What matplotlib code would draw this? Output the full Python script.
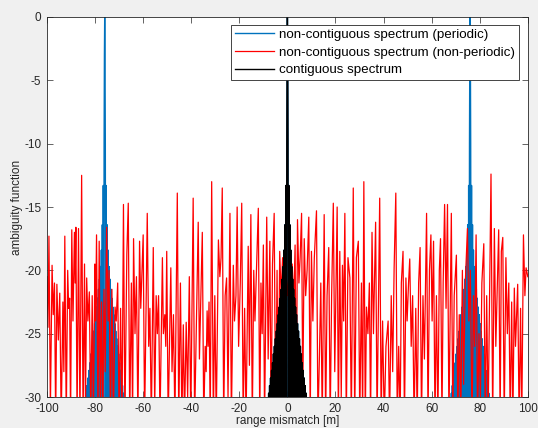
import matplotlib
matplotlib.use("Agg")
import matplotlib.pyplot as plt
import numpy as np

plt.rcParams['font.family'] = ['Liberation Sans', 'DejaVu Sans']
plt.rcParams['axes.unicode_minus'] = False

# main lobe + sidelobes of a peak (offset in m, level in dB), one half, mirrored below
lobe_dx = [0, 0.12, 0.25, 0.33, 0.4, 0.6, 0.8, 1.0, 1.2, 1.4, 1.6, 1.8, 2.0, 2.2, 2.4,
           2.6, 2.8, 3.0, 3.2, 3.4, 3.6, 3.8, 4.0, 4.2, 4.4, 4.6, 4.8, 5.0, 5.2, 5.4,
           5.6, 5.8, 6.0, 6.2, 6.4, 6.6, 6.8, 7.0, 7.2, 7.4, 7.6, 7.8, 8.0, 8.2, 8.4]
lobe_db = [0, -3, -10, -20, -45, -13.3, -45, -16.4, -45, -18.4, -45, -19.7, -45, -20.7, -45,
           -21.5, -45, -22.2, -45, -22.9, -45, -23.5, -45, -24.2, -45, -24.8, -45, -25.4, -45, -26.0,
           -45, -26.6, -45, -27.3, -45, -27.9, -45, -28.5, -45, -29.1, -45, -29.7, -45, -30.3, -45]

periodic_centres = [-76, 0, 76]
contiguous_centres = [0]

# non-periodic spectrum: peaks and dips (x [m], dB)
red_pts = [
    (-100.0, -20.5), (-99.6, -24.5), (-99.2, -17.3), (-98.6, -31), (-97.9, -19.6), (-97.4, -23.5),
    (-96.9, -21.0), (-96.4, -32), (-95.9, -21.1), (-95.3, -25.5), (-94.7, -21.8), (-94.1, -32),
    (-93.4, -22.5), (-93.0, -28), (-92.6, -17.3), (-92.0, -32), (-91.4, -20.0), (-91.0, -23),
    (-90.6, -22.2), (-90.2, -32), (-89.7, -16.8), (-89.2, -24), (-88.6, -17.0), (-88.3, -21),
    (-88.0, -16.6), (-87.5, -32), (-86.9, -16.7), (-86.3, -32), (-85.6, -12.5), (-85.0, -32),
    (-84.4, -19.5), (-84.0, -31), (-83.5, -20.6), (-83.0, -24), (-82.4, -21.7), (-81.8, -32),
    (-81.2, -22.0), (-80.7, -32), (-80.1, -19.5), (-79.8, -24), (-79.4, -17.2), (-78.8, -32),
    (-78.3, -17.7), (-77.8, -31), (-77.3, -22.5), (-76.8, -32), (-76.3, -21.5), (-75.8, -28),
    (-75.2, -16.6), (-74.6, -24), (-74.2, -20.0), (-73.6, -32), (-73.0, -21.5), (-72.4, -32),
    (-71.7, -22.9), (-71.2, -24), (-70.6, -21.0), (-70.0, -32), (-69.4, -23.0), (-68.8, -32),
    (-68.2, -14.8), (-67.6, -32), (-66.8, -18.7), (-66.2, -14.7), (-65.6, -32), (-64.9, -21),
    (-64.4, -32), (-64.0, -17.5), (-63.4, -25), (-62.8, -20.5), (-62.2, -32), (-61.5, -17.7),
    (-61.0, -23), (-60.0, -17.2), (-59.4, -32), (-58.3, -15.5), (-57.7, -26), (-57.2, -23),
    (-56.6, -32), (-55.8, -18.2), (-55.2, -31), (-54.6, -22), (-54.1, -25), (-53.6, -22),
    (-53.0, -32), (-52.0, -19.0), (-51.6, -25), (-51.0, -23.5), (-50.6, -26), (-50.2, -18.5),
    (-49.6, -32), (-48.5, -19.8), (-48.0, -28), (-47.4, -23.5), (-46.8, -32), (-45.8, -13.9),
    (-45.2, -32), (-44.5, -21), (-43.9, -32), (-43.3, -24.3), (-42.8, -32), (-42.1, -24.1),
    (-41.5, -30), (-40.8, -20.5), (-40.2, -32), (-39.2, -14.3), (-38.6, -32), (-37.1, -16.2),
    (-36.6, -27), (-35.4, -17.0), (-34.8, -32), (-34.2, -26), (-33.8, -28), (-33.4, -23.2),
    (-33.0, -26), (-32.6, -22.5), (-32.1, -32), (-31.5, -13.0), (-30.8, -32), (-30.2, -22),
    (-29.6, -32), (-28.7, -17.6), (-28.1, -20.5), (-27.6, -19), (-27.1, -13.5), (-26.5, -32),
    (-25.9, -22), (-25.3, -20.6), (-24.7, -30), (-23.9, -15.5), (-23.3, -32), (-22.5, -19.6),
    (-22.0, -24), (-21.4, -22), (-20.9, -15.0), (-20.3, -26), (-19.6, -21), (-19.0, -14.7),
    (-18.4, -32), (-17.8, -23), (-17.2, -32), (-16.3, -18.1), (-15.8, -27.5), (-15.2, -15.6),
    (-14.6, -32), (-14.0, -20), (-13.5, -24), (-12.8, -19.5), (-12.1, -15.1), (-11.5, -32),
    (-11.0, -21), (-10.5, -25), (-10.0, -18.0), (-9.5, -32), (-8.6, -15.8), (-8.0, -27),
    (-7.3, -17.7), (-6.8, -32), (-6.2, -19.5), (-5.5, -15.5), (-4.9, -32), (-4.3, -20),
    (-3.8, -32), (-3.2, -18.5), (-2.6, -22), (-2.0, -19), (-1.4, -32), (-0.8, -19.3),
    (0.0, -22), (0.8, -20), (1.4, -32), (2.0, -19.5), (2.6, -23), (3.2, -18.0),
    (3.7, -32), (4.2, -16.0), (4.8, -21), (5.3, -19), (5.9, -15.5), (6.4, -30),
    (7.0, -17.5), (7.6, -22), (8.2, -20), (8.9, -15.8), (9.5, -32), (10.0, -18.5),
    (10.6, -24), (11.2, -19), (12.1, -15.3), (12.7, -32), (13.3, -27.0), (13.9, -21),
    (14.5, -32), (15.3, -15.6), (15.9, -32), (16.5, -22), (17.2, -18.2), (17.8, -32),
    (18.4, -22), (19.1, -14.7), (19.7, -28), (20.7, -15.0), (21.2, -32), (21.8, -18.5),
    (22.4, -30), (22.9, -19.6), (23.4, -24), (23.9, -15.5), (24.5, -32), (25.2, -19),
    (26.0, -20.6), (26.6, -32), (27.4, -13.5), (28.0, -32), (28.7, -19), (29.5, -17.7),
    (30.1, -32), (30.8, -21), (31.3, -32), (31.8, -13.0), (32.4, -32), (32.9, -22.9),
    (33.5, -25), (34.1, -21), (34.6, -32), (35.2, -17.0), (35.8, -25), (36.7, -16.2),
    (37.3, -32), (38.4, -14.3), (39.0, -32), (39.6, -24), (40.3, -32), (41.0, -26),
    (41.9, -24.0), (42.5, -32), (43.2, -22), (43.8, -28), (44.4, -19.8), (45.1, -13.9),
    (45.7, -32), (46.3, -26), (46.9, -32), (47.4, -21), (48.1, -18.5), (48.7, -32),
    (49.3, -20.6), (49.8, -24), (50.4, -21), (50.9, -19.1), (51.5, -26), (52.1, -22.0),
    (52.7, -32), (53.4, -23), (54.0, -32), (54.6, -21), (55.2, -18.2), (55.8, -32),
    (56.4, -22), (57.0, -27), (57.9, -15.5), (58.5, -32), (59.1, -20), (59.7, -17.2),
    (60.2, -24), (60.8, -17.7), (61.4, -32), (62.0, -22), (62.6, -32), (63.2, -20),
    (63.7, -17.5), (64.3, -32), (64.8, -21), (65.4, -14.8), (66.0, -23), (66.6, -14.8),
    (67.2, -32), (68.2, -15.5), (68.8, -32), (69.4, -22), (70.3, -18.8), (70.9, -32),
    (71.5, -23.5), (72.1, -32), (72.8, -20), (73.3, -29), (74.0, -21), (74.9, -16.7),
    (75.5, -24), (76.1, -20), (76.8, -32), (77.4, -22), (77.9, -26), (78.5, -17.2),
    (79.1, -32), (79.7, -25), (80.3, -30), (80.9, -21), (81.7, -17.9), (82.3, -32),
    (82.9, -22), (83.5, -32), (84.7, -12.4), (85.4, -32), (86.1, -16.7), (86.7, -26),
    (87.9, -16.8), (88.5, -32), (89.0, -18.5), (89.6, -17.4), (90.2, -32), (90.9, -19.0),
    (91.5, -25), (92.1, -21), (92.7, -32), (93.3, -22.5), (93.8, -32), (94.4, -21.4),
    (94.9, -26), (95.8, -21.1), (96.4, -32), (97.0, -23), (97.5, -32), (98.2, -17.2),
    (98.8, -22), (99.3, -19.8), (100.0, -20.5),
]

labels = ['non-contiguous spectrum (periodic)',
          'non-contiguous spectrum (non-periodic)',
          'contiguous spectrum']


def peaks(centres):
    # put the lobe shape at every centre, both sides
    dx = np.array(lobe_dx)
    db = np.array(lobe_db)
    full_dx = np.concatenate([-dx[::-1], dx[1:]])
    full_db = np.concatenate([db[::-1], db[1:]])
    xs, ys = [], []
    for c in centres:
        xs.append(c + full_dx)
        ys.append(full_db)
        xs.append([np.nan])
        ys.append([np.nan])
    return np.concatenate(xs), np.concatenate(ys)


red_x, red_y = np.array(red_pts).T
blue_x, blue_y = peaks(periodic_centres)
black_x, black_y = peaks(contiguous_centres)

fig = plt.figure(figsize=(5.38, 4.28), dpi=100, facecolor='#f0f0f0')
ax = fig.add_axes([0.0874, 0.0724, 0.8936, 0.8879])
ax.set_facecolor('white')

ax.plot(blue_x, blue_y, color='#0072bd', lw=1.0, label=labels[0])
ax.plot(red_x, red_y, color='#ff0000', lw=0.9, label=labels[1])
ax.plot(black_x, black_y, color='black', lw=1.0, label=labels[2])

ax.set_xlim(-100, 100)
ax.set_ylim(-30, 0)
ax.set_xticks(np.arange(-100, 101, 20))
ax.set_yticks(np.arange(-30, 1, 5))
ax.tick_params(direction='in', top=True, right=True, length=4, width=0.5,
               labelsize=8.5, colors='#262626')
ax.tick_params(axis='x', pad=4)
ax.tick_params(axis='y', pad=4)
for s in ax.spines.values():
    s.set_linewidth(0.6)
    s.set_color('#262626')

ax.set_xlabel('range mismatch [m]', fontsize=8.5, color='#262626', labelpad=0)
ax.set_ylabel('ambiguity function', fontsize=8.5, color='#262626', labelpad=1)

leg = ax.legend(loc='upper right', bbox_to_anchor=(0.982, 0.98), borderaxespad=0,
                fontsize=9.6, fancybox=False, framealpha=1, edgecolor='#262626',
                handlelength=2.9, handletextpad=0.4, borderpad=0.3, labelspacing=0.4)
leg.get_frame().set_linewidth(0.6)

fig.savefig('out.png', dpi=100, facecolor=fig.get_facecolor())
